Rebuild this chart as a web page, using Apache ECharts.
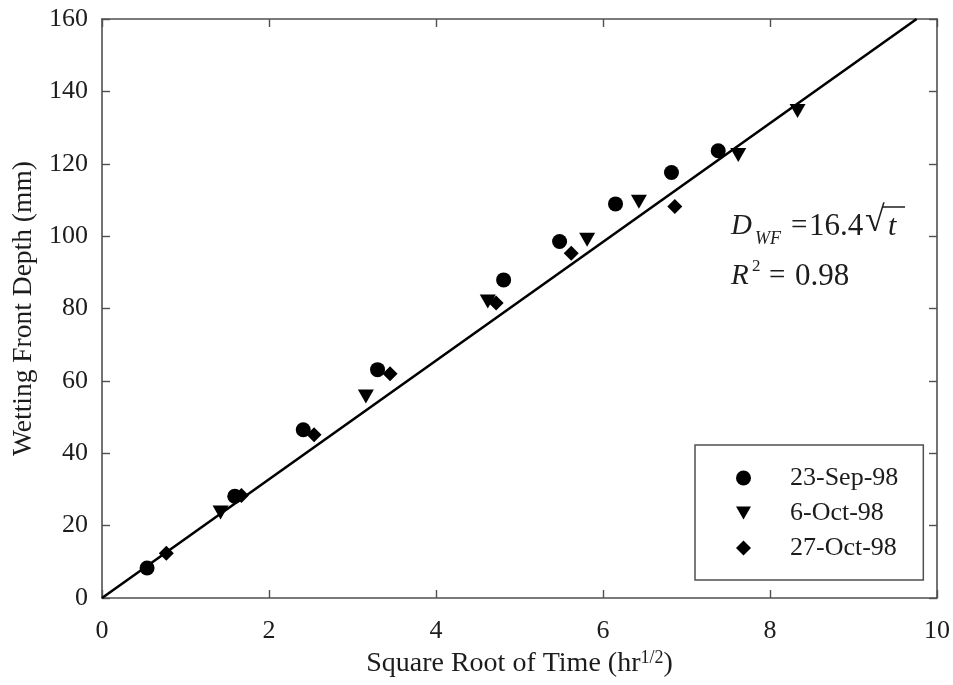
<!DOCTYPE html>
<html>
<head>
<meta charset="utf-8">
<script src="https://cdn.jsdelivr.net/npm/echarts@6/dist/echarts.min.js"></script>
<style>
html,body{margin:0;padding:0;background:#fff;}
#chart{width:953px;height:685px;}
</style>
</head>
<body>
<div id="chart"></div>
<script>
var seriesNames = ['23-Sep-98', '6-Oct-98', '27-Oct-98'];
var sep23 = [[0.54, 8.3], [1.59, 28.1], [2.41, 46.5], [3.30, 63.1], [4.81, 87.9], [5.48, 98.5], [6.15, 108.9], [6.82, 117.6], [7.38, 123.6]];
var oct6 = [[1.42, 23.6], [3.16, 55.7], [4.62, 81.9], [5.81, 99.0], [6.43, 109.5], [7.62, 122.4], [8.33, 134.6]];
var oct27 = [[0.77, 12.4], [1.67, 28.3], [2.54, 45.1], [3.45, 62.0], [4.72, 81.5], [5.62, 95.3], [6.86, 108.2]];
var fitSlope = 16.4;
var yMax = 160;
var fitLine = [[0, 0], [yMax / fitSlope, yMax]];
var xTicks = [0, 2, 4, 6, 8, 10];
var yTicks = [0, 20, 40, 60, 80, 100, 120, 140, 160];

var FONT = "'Liberation Serif', 'Times New Roman', serif";
var TXT = '#1c1c1c';
var AX = '#505050';
var TRI_DOWN = 'path://M0,0 L16,0 L8,14 Z';

var chart = echarts.init(document.getElementById('chart'), null, {renderer: 'canvas'});

function axisBase(extra) {
  var o = {
    type: 'value',
    axisLine: {show: true, onZero: false, lineStyle: {color: AX, width: 1.6}},
    axisTick: {show: true, inside: true, length: 8, lineStyle: {color: AX, width: 1.4}},
    splitLine: {show: false}
  };
  for (var k in extra) o[k] = extra[k];
  return o;
}

var option = {
  animation: false,
  backgroundColor: '#ffffff',
  grid: {left: 102, right: 15, top: 19, bottom: 87, containLabel: false},
  xAxis: [
    axisBase({
      min: xTicks[0], max: xTicks[xTicks.length - 1], interval: 2, position: 'bottom',
      axisLabel: {show: true, margin: 20, fontSize: 26, fontFamily: FONT, color: TXT},
      name: 'Square Root of Time (hr{sup|1/2})',
      nameLocation: 'middle', nameGap: 48,
      nameTextStyle: {fontSize: 28, fontFamily: FONT, color: TXT,
        rich: {sup: {fontSize: 18, fontFamily: FONT, color: TXT, verticalAlign: 'top', padding: [0, 0, 12, 0]}}}
    }),
    axisBase({
      min: xTicks[0], max: xTicks[xTicks.length - 1], interval: 2, position: 'top',
      axisLabel: {show: false}
    })
  ],
  yAxis: [
    axisBase({
      min: yTicks[0], max: yTicks[yTicks.length - 1], interval: 20, position: 'left',
      axisLabel: {show: true, margin: 14, fontSize: 26, fontFamily: FONT, color: TXT},
      name: 'Wetting Front Depth (mm)',
      nameLocation: 'middle', nameGap: 64,
      nameTextStyle: {fontSize: 27.5, fontFamily: FONT, color: TXT}
    }),
    axisBase({
      min: yTicks[0], max: yTicks[yTicks.length - 1], interval: 20, position: 'right',
      axisLabel: {show: false}
    })
  ],
  legend: {
    orient: 'vertical',
    left: 695, top: 445,
    padding: [20, 25, 19, 41],
    itemWidth: 15, itemHeight: 15,
    itemGap: 9,
    borderColor: AX, borderWidth: 1.5,
    backgroundColor: '#fff',
    textStyle: {fontSize: 26, fontFamily: FONT, color: TXT, padding: [0, 0, 0, 34]},
    data: [
      {name: seriesNames[0], icon: 'circle'},
      {name: seriesNames[1], icon: TRI_DOWN},
      {name: seriesNames[2], icon: 'diamond'}
    ]
  },
  series: [
    {
      name: 'fit', type: 'line', data: fitLine, symbol: 'none',
      lineStyle: {color: '#000', width: 2.6}, z: 1, silent: true
    },
    {
      name: seriesNames[0], type: 'scatter', data: sep23, symbol: 'circle', symbolSize: 15,
      itemStyle: {color: '#000', opacity: 1}, z: 3
    },
    {
      name: seriesNames[1], type: 'scatter', data: oct6, symbol: TRI_DOWN,
      symbolSize: [16, 14], itemStyle: {color: '#000', opacity: 1}, z: 3
    },
    {
      name: seriesNames[2], type: 'scatter', data: oct27, symbol: 'diamond', symbolSize: 15,
      itemStyle: {color: '#000', opacity: 1}, z: 3
    }
  ],
  graphic: [
    {type: 'text', left: 731, top: 212, style: {text: 'D', font: 'italic 29px ' + FONT, fill: TXT}},
    {type: 'text', left: 755, top: 230, style: {text: 'WF', font: 'italic 18px ' + FONT, fill: TXT}},
    {type: 'text', left: 791, top: 212, style: {text: '=', font: '29px ' + FONT, fill: TXT}},
    {type: 'text', left: 809, top: 211, style: {text: '16.4', font: '31px ' + FONT, fill: TXT}},
    {type: 'text', left: 865, top: 204, style: {text: '\u221A', font: '36px ' + FONT, fill: TXT}},
    {type: 'text', left: 888, top: 212, style: {text: 't', font: 'italic 30px ' + FONT, fill: TXT}},
    {type: 'line', shape: {x1: 882, y1: 207, x2: 905, y2: 207}, style: {stroke: TXT, lineWidth: 1.5}},
    {type: 'text', left: 731, top: 262, style: {text: 'R', font: 'italic 29px ' + FONT, fill: TXT}},
    {type: 'text', left: 752, top: 258, style: {text: '2', font: '17px ' + FONT, fill: TXT}},
    {type: 'text', left: 769, top: 262, style: {text: '=', font: '29px ' + FONT, fill: TXT}},
    {type: 'text', left: 795, top: 261, style: {text: '0.98', font: '31px ' + FONT, fill: TXT}}
  ]
};
chart.setOption(option);
</script>
</body>
</html>
